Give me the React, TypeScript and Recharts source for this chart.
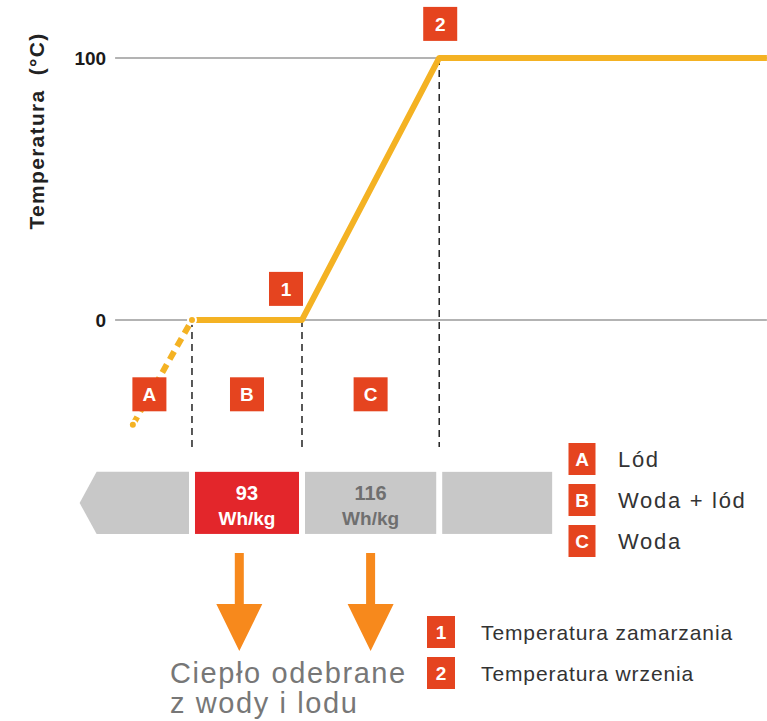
import React from 'react';
import { ComposedChart, Line, XAxis, YAxis, ReferenceLine, ReferenceArea, ReferenceDot } from 'recharts';

// Energy axis (Wh/kg) and temperature axis (°C)
const iceCurve = [
  { e: -50, t: -40 },
  { e: 0, t: 0 },
];
const mainCurve = [
  { e: 0, t: 0 },
  { e: 93, t: 0 },
  { e: 209, t: 100 },
  { e: 486, t: 100 },
];
const yTicks = [0, 100];
const yTickLabels = ['0', '100'];
const phaseLetters = ['A', 'B', 'C'];
const phaseStart = [-72, 0, 93];
const phaseEnd = [0, 93, 209];
const phaseNames = ['Lód', 'Woda + lód', 'Woda'];
const boundaryE = [0, 93, 209];
const boundaryT = [0, 0, 100];
const stripStart = [-95, 0, 93, 209];
const stripEnd = [0, 93, 209, 307];
const stripValues = ['', '93', '116', ''];
const stripUnit = 'Wh/kg';
const pointNumbers = ['1', '2'];
const pointE = [93, 209];
const pointT = [0, 100];
const pointNames = ['Temperatura zamarzania', 'Temperatura wrzenia'];
const arrowE = [40, 151];
const yTitle = 'Temperatura  (°C)';
const caption = ['Ciepło odebrane', 'z wody i lodu'];

const W = 767;
const H = 721;
const LINE = '#F4B223';
const BADGE = '#E5441F';
const RED = '#E3262B';
const GRAY = '#C8C8C8';
const ORANGE = '#F7891C';
const FONT = '"Liberation Sans", Arial, sans-serif';

const STRIP_TOP = -58;
const STRIP_BOTTOM = -81.7;
const BADGE_T = -28.4;
const DASH_BOTTOM = -48.5;
const ARROW_T = -89;

const Badge = (props: any) => {
  const { cx, cy, label, dx = 0, dy = 0, w = 34, h = 34, fs = 19 } = props;
  if (cx == null || cy == null) return null;
  const x = cx + dx;
  const y = cy + dy;
  return (
    <g>
      <rect x={x - w / 2} y={y - h / 2} width={w} height={h} fill={BADGE} />
      <text x={x} y={y + fs * 0.36} textAnchor="middle" fill="#fff" fontFamily={FONT} fontWeight="bold" fontSize={fs}>
        {label}
      </text>
    </g>
  );
};

const StripShape = (idx: number) => (props: any) => {
  const { x, y, width, height } = props;
  const gap = 3;
  const x1 = x + (idx === 0 ? 0 : gap);
  const x2 = x + width - gap;
  const cx = (x1 + x2) / 2;
  if (idx === 0) {
    const pts = `${x},${y + height / 2} ${x + 17},${y} ${x2},${y} ${x2},${y + height} ${x + 17},${y + height}`;
    return <polygon points={pts} fill={GRAY} />;
  }
  const isRed = idx === 1;
  const tc = isRed ? '#fff' : '#6f6f6f';
  return (
    <g>
      <rect x={x1} y={y} width={x2 - x1} height={height} fill={isRed ? RED : GRAY} />
      {stripValues[idx] ? (
        <g>
          <text x={cx} y={y + 28} textAnchor="middle" fill={tc} fontFamily={FONT} fontWeight="bold" fontSize={20}>
            {stripValues[idx]}
          </text>
          <text x={cx} y={y + 53} textAnchor="middle" fill={tc} fontFamily={FONT} fontWeight="bold" fontSize={19}>
            {stripUnit}
          </text>
        </g>
      ) : null}
    </g>
  );
};

const ArrowShape = (props: any) => {
  const { cx, cy } = props;
  if (cx == null || cy == null) return null;
  const shaftW = 9;
  const shaftH = 51;
  const headW = 46;
  const headH = 47;
  const pts = [
    [cx - shaftW / 2, cy],
    [cx + shaftW / 2, cy],
    [cx + shaftW / 2, cy + shaftH],
    [cx + headW / 2, cy + shaftH],
    [cx, cy + shaftH + headH],
    [cx - headW / 2, cy + shaftH],
    [cx - shaftW / 2, cy + shaftH],
  ]
    .map((p) => p.join(','))
    .join(' ');
  return <polygon points={pts} fill={ORANGE} />;
};

export default function App() {
  return (
    <div style={{ position: 'absolute', left: 0, top: 0, width: W, height: H, background: '#fff' }}>
      <ComposedChart width={W} height={H} margin={{ top: 0, right: 0, bottom: 0, left: 0 }}>
        <XAxis type="number" dataKey="e" domain={[-162.3, 486.1]} allowDataOverflow hide />
        <YAxis type="number" dataKey="t" domain={[-153.1, 122.1]} allowDataOverflow hide />
        {yTicks.map((v, i) => (
          <ReferenceLine
            key={'g' + v}
            segment={[
              { x: -65, y: v },
              { x: 486, y: v },
            ]}
            stroke="#9a9a9a"
            strokeWidth={1.5}
            label={{
              value: yTickLabels[i],
              position: 'left',
              offset: 9,
              fill: '#1a1a1a',
              fontSize: 19,
              fontWeight: 'bold',
              fontFamily: FONT,
            }}
          />
        ))}
        {boundaryE.map((e, i) => (
          <ReferenceLine
            key={'b' + e}
            segment={[
              { x: e, y: boundaryT[i] },
              { x: e, y: DASH_BOTTOM },
            ]}
            stroke="#222"
            strokeWidth={1.5}
            strokeDasharray="7 5"
          />
        ))}
        <Line
          data={iceCurve}
          dataKey="t"
          stroke={LINE}
          strokeWidth={6}
          strokeDasharray="9 6"
          dot={false}
          isAnimationActive={false}
        />
        <Line
          data={mainCurve}
          dataKey="t"
          stroke={LINE}
          strokeWidth={6}
          strokeLinejoin="round"
          dot={false}
          isAnimationActive={false}
        />
        {stripStart.map((s, i) => (
          <ReferenceArea
            key={'s' + i}
            x1={s}
            x2={stripEnd[i]}
            y1={STRIP_TOP}
            y2={STRIP_BOTTOM}
            ifOverflow="visible"
            shape={StripShape(i)}
          />
        ))}
        {phaseLetters.map((l, i) => (
          <ReferenceDot
            key={'p' + l}
            x={(phaseStart[i] + phaseEnd[i]) / 2}
            y={BADGE_T}
            r={1}
            shape={(p: any) => <Badge {...p} label={l} />}
          />
        ))}
        {pointNumbers.map((n, i) => (
          <ReferenceDot
            key={'n' + n}
            x={pointE[i]}
            y={pointT[i]}
            r={1}
            ifOverflow="visible"
            shape={(p: any) => <Badge {...p} label={n} dx={i === 0 ? -16 : 1} dy={i === 0 ? -31 : -34} />}
          />
        ))}
        {arrowE.map((e, i) => (
          <ReferenceDot key={'a' + i} x={e} y={ARROW_T} r={1} shape={ArrowShape} />
        ))}
      </ComposedChart>
      <svg width={W} height={H} style={{ position: 'absolute', left: 0, top: 0, pointerEvents: 'none' }}>
        <text
          transform="translate(44,131) rotate(-90)"
          textAnchor="middle"
          fontFamily={FONT}
          fontWeight="bold"
          fontSize={21}
          fill="#222"
          letterSpacing={1.3}
          style={{ whiteSpace: 'pre' }}
        >
          {yTitle}
        </text>
        {phaseLetters.map((l, i) => (
          <g key={'lg' + l}>
            <Badge cx={582} cy={459 + i * 41} label={l} w={27} h={32} fs={19} />
            <text x={618} y={467 + i * 41} fontFamily={FONT} fontSize={22} fill="#333" letterSpacing={1.7}>
              {phaseNames[i]}
            </text>
          </g>
        ))}
        {pointNumbers.map((n, i) => (
          <g key={'lp' + n}>
            <Badge cx={441} cy={632 + i * 41} label={n} w={28} h={32} fs={19} />
            <text x={481} y={640 + i * 41} fontFamily={FONT} fontSize={21} fill="#333" letterSpacing={0.9}>
              {pointNames[i]}
            </text>
          </g>
        ))}
        <text x={170} y={683} fontFamily={FONT} fontSize={29} fill="#777" letterSpacing={1.6}>
          {caption[0]}
        </text>
        <text x={170} y={713} fontFamily={FONT} fontSize={29} fill="#777" letterSpacing={1.6}>
          {caption[1]}
        </text>
      </svg>
    </div>
  );
}
